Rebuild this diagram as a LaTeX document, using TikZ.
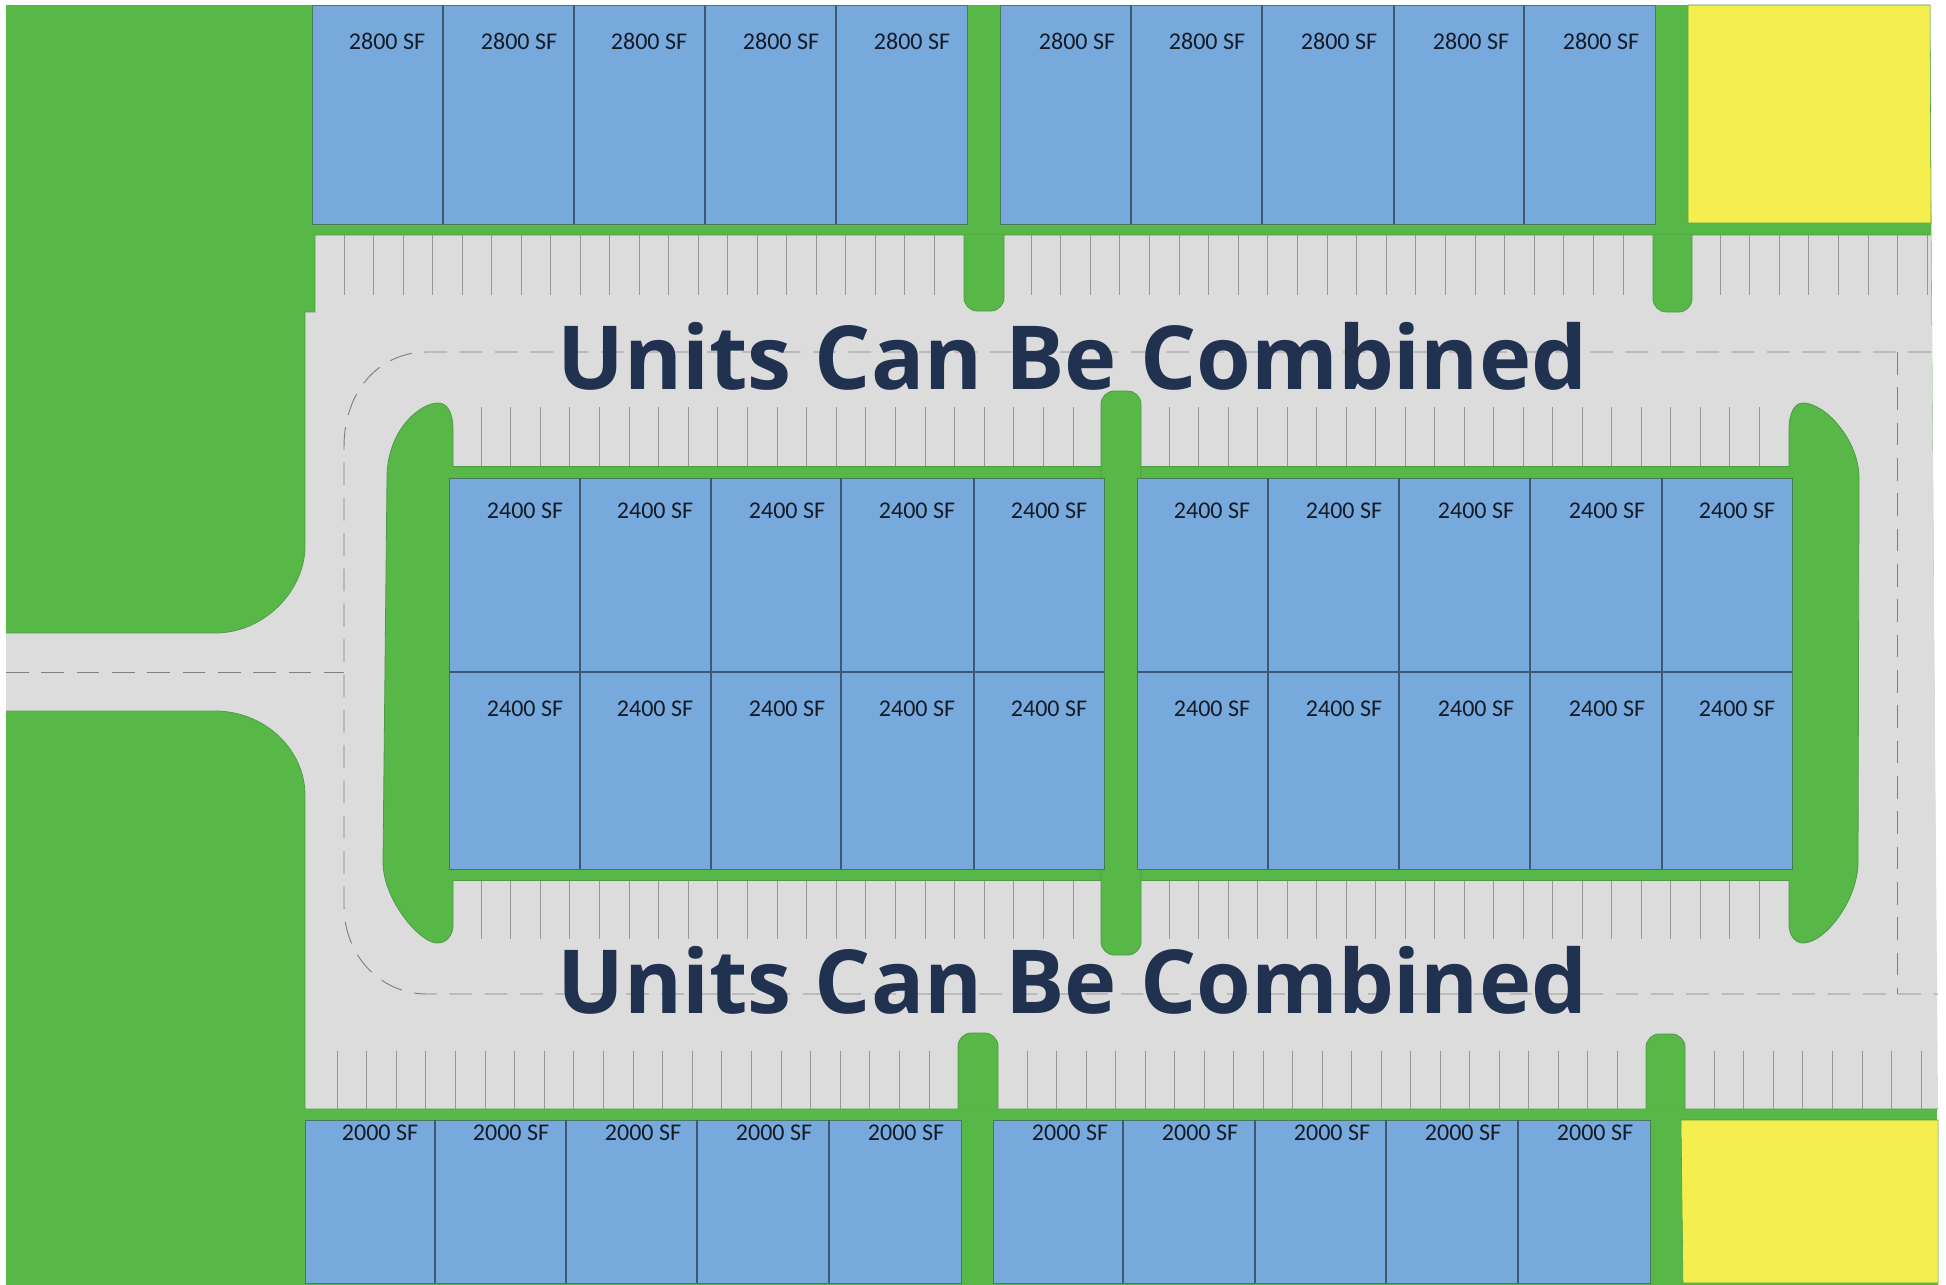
\documentclass[tikz,border=0pt]{standalone}
\usepackage{fontspec}
\setmainfont{Carlito}
\newfontfamily\headfont{Open Sans}
\definecolor{lawngreen}{HTML}{57B747}
\definecolor{lawnedge}{HTML}{4F9A48}
\definecolor{roadgrey}{HTML}{DCDCDC}
\definecolor{unitblue}{HTML}{77A9DC}
\definecolor{unitline}{HTML}{3F5873}
\definecolor{lotyellow}{HTML}{F4EF4E}
\definecolor{stripegrey}{HTML}{969696}
\definecolor{headnavy}{HTML}{20324F}
\definecolor{labelink}{HTML}{141B26}
\begin{document}
\begin{tikzpicture}[
  x=0.75pt, y=-0.75pt,
  lawn/.style={fill=lawngreen, draw=lawnedge, line width=0.6pt},
  road/.style={fill=roadgrey},
  curb/.style={draw=lawnedge, line width=0.6pt},
  unit/.style={fill=unitblue, draw=lawnedge!50!unitline, line width=0.6pt},
  party/.style={draw=unitline, line width=0.9pt},
  lot/.style={fill=lotyellow, draw=lawnedge, line width=0.4pt},
  stripe/.style={draw=stripegrey, line width=0.75pt},
  cline/.style={draw=stripegrey!85!black, line width=0.7pt, dash pattern=on 17pt off 9.5pt},
  area/.style={inner sep=0pt, text=labelink, font=\fontsize{18}{18}\selectfont},
  headline/.style={inner sep=0pt, anchor=base, text=headnavy, font=\headfont\bfseries\fontsize{66.3}{66.3}\selectfont}
]
\useasboundingbox (0,0) rectangle (1946,1285);

% ground and road
\fill[lawngreen] (6,5) -- (1930,5) -- (1938,1285) -- (6,1285) -- cycle;
\path[road] (315,235) -- (1931,235) -- (1938,1109) -- (305,1109) -- (305,795)
  .. controls (305,750) and (265,711) .. (215,711) -- (6,711) -- (6,633) -- (215,633)
  .. controls (265,633) and (305,590) .. (305,546) -- (305,312) -- (315,312) -- cycle;
\draw[curb] (1931,235) -- (315,235) -- (315,312) -- (305,312) -- (305,546)
  .. controls (305,590) and (265,633) .. (215,633) -- (6,633);
\draw[curb] (6,711) -- (215,711) .. controls (265,711) and (305,750) .. (305,795)
  -- (305,1109) -- (1938,1109);

% centre lines
\draw[cline] (1931,352) -- (427,352) .. controls (380,352) and (344,390) .. (344,447)
  -- (344,906) .. controls (344,955) and (380,994) .. (427,994) -- (1938,994);
\draw[cline] (1897,352) -- (1897,994);
\draw[cline] (6,672) -- (344,672);

% stripes
\foreach \i in {0,...,20} {
  \draw[stripe] ({344+29.5*\i},235) -- ++(0,60);
  \draw[stripe] ({1031+29.6*\i},235) -- ++(0,60);
  \draw[stripe] ({481+29.6*\i},407) -- ++(0,59);
  \draw[stripe] ({1169+29.5*\i},407) -- ++(0,59);
  \draw[stripe] ({481+29.6*\i},880) -- ++(0,59);
  \draw[stripe] ({1169+29.5*\i},880) -- ++(0,59);
  \draw[stripe] ({337+29.6*\i},1051) -- ++(0,58);
  \draw[stripe] ({1027+29.5*\i},1051) -- ++(0,58);
}
\foreach \i in {0,...,7} {
  \draw[stripe] ({1720+29.6*\i},235) -- ++(0,60);
  \draw[stripe] ({1714+29.6*\i},1051) -- ++(0,58);
}

% islands and posts
\draw[lawn] (453,430) .. controls (453,412) and (447,403) .. (438,403)
  .. controls (420,403) and (387,430) .. (387,478) -- (383,862)
  .. controls (383,900) and (420,943) .. (437,943)
  .. controls (447,943) and (453,935) .. (453,925) -- cycle;
\draw[lawn] (1789,430) .. controls (1789,412) and (1795,403) .. (1803,403)
  .. controls (1825,403) and (1859,440) .. (1859,478) -- (1858,862)
  .. controls (1858,900) and (1825,943) .. (1803,943)
  .. controls (1795,943) and (1789,935) .. (1789,925) -- cycle;
\fill[lawngreen] (449,466) rectangle (1792,880);
\draw[curb] (453,466) -- (1789,466) (453,880) -- (1789,880);
\draw[lawn, rounded corners=10pt] (964,235) -- (964,311) -- (1004,311) -- (1004,235);
\draw[lawn, rounded corners=10pt] (1653,235) -- (1653,312) -- (1692,312) -- (1692,235);
\draw[lawn, rounded corners=10pt] (1101,391) rectangle (1141,955);
\draw[lawn, rounded corners=10pt] (958,1109) -- (958,1033) -- (998,1033) -- (998,1109);
\draw[lawn, rounded corners=10pt] (1646,1109) -- (1646,1034) -- (1685,1034) -- (1685,1109);

% units
\draw[unit] (312,5) rectangle (967,224);
\draw[unit] (1000,5) rectangle (1655,224);
\foreach \x in {443,574,705,836,1131,1262,1394,1524}
  \draw[party] (\x,5) -- (\x,224);
\foreach \i/\xt in {1/387,2/519,3/649,4/781,5/912,6/1077,7/1207,8/1339,9/1471,10/1601}
  \node[area] (top\i) at (\xt,41) {2800 SF};

\draw[unit] (449,478) rectangle (1104,869);
\draw[unit] (1137,478) rectangle (1792,869);
\foreach \x in {580,711,841,974,1268,1399,1530,1662}
  \draw[party] (\x,478) -- (\x,869);
\draw[party] (449,672) -- (1104,672) (1137,672) -- (1792,672);
\foreach \i/\xt in {1/525,2/655,3/787,4/917,5/1049,6/1212,7/1344,8/1476,9/1607,10/1737} {
  \node[area] (upper\i) at (\xt,511) {2400 SF};
  \node[area] (lower\i) at (\xt,709) {2400 SF};
}

\draw[unit] (305,1120) rectangle (961,1283);
\draw[unit] (993,1120) rectangle (1650,1283);
\foreach \x in {435,566,697,829,1123,1255,1386,1518}
  \draw[party] (\x,1120) -- (\x,1283);
\foreach \i/\xt in {1/380,2/511,3/643,4/774,5/906,6/1070,7/1200,8/1332,9/1463,10/1595}
  \node[area] (bottom\i) at (\xt,1133) {2000 SF};

% open lots
\draw[lot] (1688,5) -- (1930,5) -- (1931,223) -- (1688,223) -- cycle;
\draw[lot] (1681,1120) -- (1938,1120) -- (1938,1283) -- (1683,1283) -- cycle;

\node[headline] (headA) at (1072.5,389) {Units Can Be Combined};
\node[headline] (headB) at (1072.5,1013) {Units Can Be Combined};
\end{tikzpicture}
\end{document}
